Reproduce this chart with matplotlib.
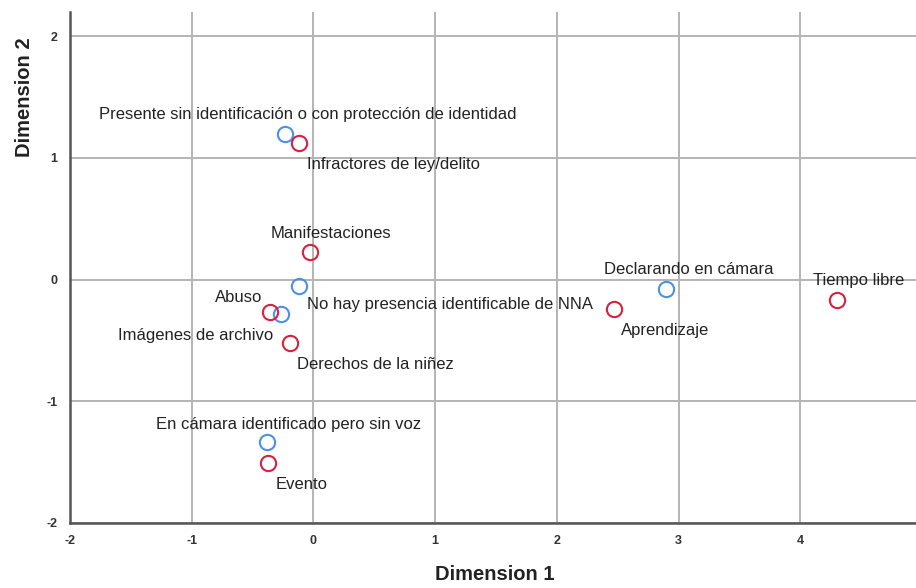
import matplotlib
matplotlib.use("Agg")
import matplotlib.pyplot as plt

# Row points (red): topics
row_labels = ["Infractores de ley/delito", "Manifestaciones", "Abuso",
              "Derechos de la niñez", "Evento", "Aprendizaje", "Tiempo libre"]
row_dim1 = [-0.12, -0.03, -0.36, -0.19, -0.37, 2.47, 4.30]
row_dim2 = [1.12, 0.23, -0.27, -0.52, -1.51, -0.24, -0.17]

# Column points (blue): presence of children
col_labels = ["Presente sin identificación o con protección de identidad",
              "No hay presencia identificable de NNA", "Imágenes de archivo",
              "En cámara identificado pero sin voz", "Declarando en cámara"]
col_dim1 = [-0.23, -0.115, -0.265, -0.38, 2.90]
col_dim2 = [1.20, -0.05, -0.28, -1.34, -0.076]

x_ticks = [-2, -1, 0, 1, 2, 3, 4]
y_ticks = [-2, -1, 0, 1, 2]

# label placement (pixel offsets, alignment)
row_offsets = [((8, -21), "left"), ((21, 18), "center"), ((-31, 15), "center"),
               ((7, -22), "left"), ((7, -21), "left"), ((7, -22), "left"),
               ((22, 20), "center")]
col_offsets = [((22, 19), "center"), ((8, -19), "left"), ((-8, -22), "right"),
               ((21.5, 18), "center"), ((22, 19), "center")]

RED = "#d8213f"
BLUE = "#4b91e8"
LABEL_FONT = dict(fontsize=12, family="Liberation Sans", color="#222222")

fig = plt.figure(figsize=(9.16, 5.88), dpi=100)
ax = fig.add_axes([70 / 916, 1 - 522.7 / 588, 1 - 70 / 916, (522.7 - 12) / 588])
ax.set_xlim(-2, 4.95)
ax.set_ylim(-2, 2.2)
ax.set_xticks(x_ticks)
ax.set_yticks(y_ticks)
ax.set_xticklabels([str(v) for v in x_ticks], fontsize=9, fontweight="bold",
                   family="Liberation Sans", color="#333333")
ax.set_yticklabels([str(v) for v in y_ticks], fontsize=9, fontweight="bold",
                   family="Liberation Sans", color="#333333")
ax.tick_params(length=0, pad=9)
ax.grid(True, color="#b4b4b4", linewidth=1.4)
ax.set_axisbelow(True)
for s in ["top", "right"]:
    ax.spines[s].set_visible(False)
for s in ["left", "bottom"]:
    ax.spines[s].set_color("#555555")
    ax.spines[s].set_linewidth(1.8)

ax.plot(col_dim1, col_dim2, linestyle="none", marker="o", markersize=11,
        markerfacecolor="none", markeredgecolor=BLUE, markeredgewidth=1.5,
        clip_on=False, zorder=3)
ax.plot(row_dim1, row_dim2, linestyle="none", marker="o", markersize=11,
        markerfacecolor="none", markeredgecolor=RED, markeredgewidth=1.5,
        clip_on=False, zorder=3)

for lab, x, y, (off, ha) in zip(col_labels, col_dim1, col_dim2, col_offsets):
    ax.annotate(lab, (x, y), xytext=off, textcoords="offset pixels", ha=ha,
                va="center", **LABEL_FONT)
for lab, x, y, (off, ha) in zip(row_labels, row_dim1, row_dim2, row_offsets):
    ax.annotate(lab, (x, y), xytext=off, textcoords="offset pixels", ha=ha,
                va="center", **LABEL_FONT)

fig.text(495 / 916, 1 - 575 / 588, "Dimension 1", ha="center", va="center",
         fontsize=14.5, fontweight="bold", family="Liberation Sans", color="#222222")
fig.text(25 / 916, 1 - 97 / 588, "Dimension 2", ha="center", va="center",
         rotation=90, fontsize=14.5, fontweight="bold", family="Liberation Sans",
         color="#222222")

fig.savefig("out.png", dpi=100)
